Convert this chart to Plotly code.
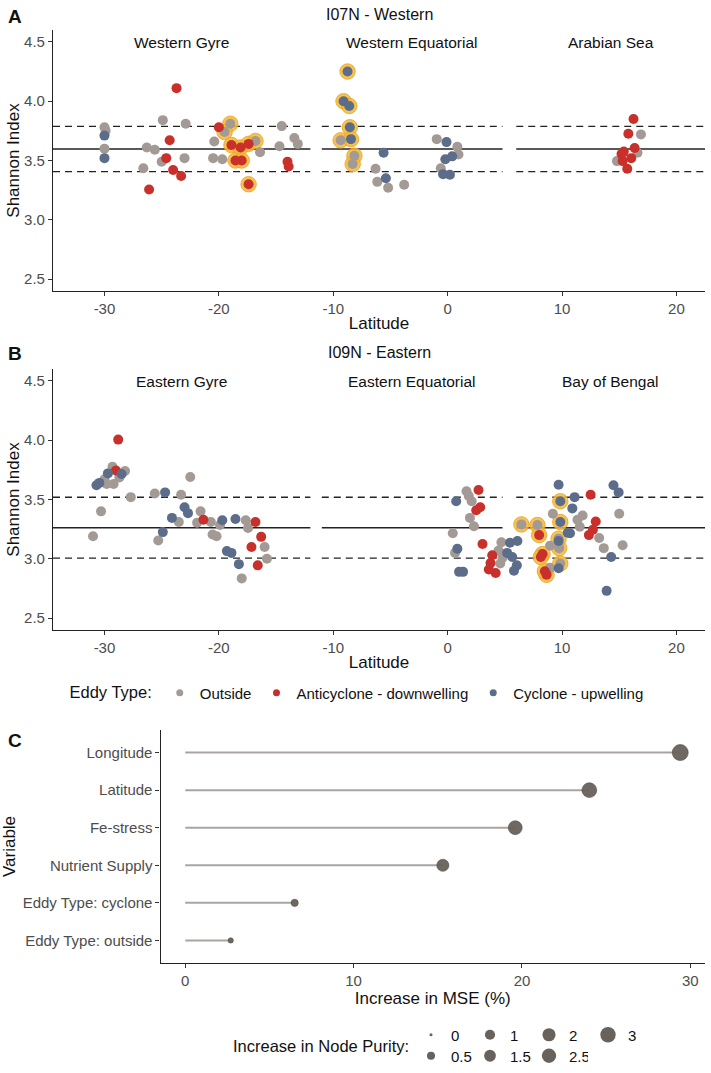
import plotly.graph_objects as go
import math

W, H = 711, 1073

# ---------------- Panel A: I07N - Western ----------------
a_lat = [-30.0, -29.9, -30.0, -30.0, -30.0, -24.9, -22.9, -23.7, -20.0, -19.0, -19.5, -24.3, -20.4,
         -14.5, -13.4, -13.1, -14.7, -18.9, -18.1, -17.4, -16.8, -16.4, -26.3, -25.6, -26.6, -24.6,
         -25.0, -23.0, -24.0, -23.3, -26.1, -20.5, -19.7, -18.55, -18.0, -17.4, -14.0, -13.9,
         -8.75, -9.1, -8.6, -8.55, -9.35, -8.45, -8.15, -8.3, -5.6, -6.3, -5.4, -6.15, -5.2, -3.8,
         -0.95, -0.1, 0.85, 0.95, 0.4, -0.2, -0.6, -0.4, 0.2,
         16.25, 15.8, 16.9, 16.35, 15.4, 16.6, 15.2, 16.05, 14.8, 15.3, 15.7]
a_shannon = [3.78, 3.75, 3.71, 3.60, 3.52, 3.84, 3.81, 4.11, 3.78, 3.81, 3.74, 3.67, 3.66,
             3.79, 3.69, 3.64, 3.62, 3.63, 3.61, 3.64, 3.665, 3.57, 3.61, 3.59, 3.435, 3.52,
             3.49, 3.52, 3.42, 3.37, 3.255, 3.52, 3.51, 3.50, 3.50, 3.30, 3.49, 3.45,
             4.25, 4.00, 3.96, 3.78, 3.67, 3.68, 3.54, 3.47, 3.565, 3.43, 3.35, 3.32, 3.27, 3.295,
             3.68, 3.655, 3.615, 3.55, 3.535, 3.51, 3.435, 3.385, 3.38,
             3.85, 3.725, 3.72, 3.605, 3.575, 3.565, 3.555, 3.52, 3.495, 3.495, 3.43]
a_type = ["O", "O", "C", "O", "C", "O", "O", "A", "A", "O", "O", "A", "O",
          "O", "O", "O", "O", "A", "A", "A", "O", "O", "O", "O", "O", "A",
          "O", "O", "A", "A", "A", "O", "O", "A", "A", "A", "A", "A",
          "C", "C", "C", "C", "O", "C", "O", "O", "C", "O", "C", "O", "O", "O",
          "O", "C", "O", "O", "C", "C", "O", "C", "C",
          "A", "A", "O", "A", "A", "O", "A", "A", "O", "A", "A"]
a_highlight = [0, 0, 0, 0, 0, 0, 0, 0, 0, 1, 1, 0, 0,
               0, 0, 0, 0, 1, 1, 1, 1, 0, 0, 0, 0, 0,
               0, 0, 0, 0, 0, 0, 0, 1, 1, 1, 0, 0,
               1, 1, 1, 1, 1, 1, 1, 1, 0, 0, 0, 0, 0, 0,
               0, 0, 0, 0, 0, 0, 0, 0, 0,
               0, 0, 0, 0, 0, 0, 0, 0, 0, 0, 0]
a_mean, a_sd = 3.597, 0.19

# ---------------- Panel B: I09N - Eastern ----------------
b_lat = [-28.8, -29.3, -29.0, -29.7, -28.2, -28.5, -28.7, -30.0, -30.7, -30.45, -29.8, -29.2, -27.7,
         -30.3, -31.0, -22.5, -25.6, -24.7, -23.3, -23.0, -22.7, -21.6, -24.1, -23.5, -21.35, -20.7,
         -21.9, -19.9, -19.7, -18.55, -17.65, -17.45, -16.8, -24.9, -25.3, -20.55, -20.2, -16.3,
         -17.15, -16.0, -15.8, -19.3, -18.9, -18.25, -16.6, -18.0,
         0.45, 0.75, 1.65, 2.1, 1.85, 2.7, 2.85, 2.5, 1.95, 2.3, 3.05, 0.85, 0.65, 1.0, 1.35,
         4.7, 5.45, 6.1, 4.45, 5.2, 5.65, 3.9, 4.8, 3.75, 4.6, 6.05, 3.6, 4.2, 5.8,
         6.45, 7.85, 8.0, 8.3, 8.15, 8.95, 8.65, 8.5, 8.95, 9.7, 9.85, 9.75, 9.7, 9.7, 9.85, 9.85,
         9.7, 9.2, 10.5, 10.7, 11.1, 10.9, 11.35, 11.8, 11.55, 12.5, 12.95, 12.7, 12.35, 13.25,
         13.65, 14.3, 13.9, 14.5, 14.95, 15.0, 15.3]
b_shannon = [4.005, 3.775, 3.745, 3.72, 3.74, 3.715, 3.685, 3.67, 3.62, 3.64, 3.63, 3.63, 3.52,
             3.40, 3.19, 3.69, 3.55, 3.56, 3.54, 3.435, 3.385, 3.40, 3.345, 3.31, 3.33, 3.31,
             3.305, 3.285, 3.325, 3.335, 3.325, 3.26, 3.31, 3.225, 3.155, 3.205, 3.19, 3.185,
             3.10, 3.10, 3.00, 3.065, 3.05, 2.955, 2.945, 2.835,
             3.215, 3.485, 3.57, 3.485, 3.53, 3.58, 3.435, 3.41, 3.345, 3.275, 3.125, 3.085, 3.05, 2.89, 2.89,
             3.14, 3.135, 3.15, 3.07, 3.05, 3.015, 3.03, 3.01, 2.965, 2.96, 2.945, 2.91, 2.88, 2.90,
             3.29, 3.285, 3.20, 3.04, 3.015, 3.11, 2.865, 2.895, 2.925, 2.92, 2.96, 3.09, 3.17, 3.15, 3.31, 3.485,
             3.625, 3.38, 3.22, 3.215, 3.52, 3.425, 3.33, 3.365, 3.27, 3.54, 3.315, 3.245, 3.20, 3.175,
             3.09, 3.015, 2.73, 3.62, 3.56, 3.38, 3.115]
b_type = ["A", "O", "A", "C", "O", "C", "O", "O", "C", "C", "O", "O", "O",
          "O", "O", "O", "O", "C", "O", "C", "C", "O", "C", "O", "A", "O",
          "O", "O", "C", "C", "O", "O", "A", "C", "O", "O", "O", "A",
          "A", "O", "O", "C", "C", "C", "A", "O",
          "O", "C", "O", "O", "O", "A", "A", "A", "O", "O", "A", "C", "O", "C", "C",
          "O", "C", "C", "O", "C", "C", "A", "O", "A", "O", "C", "A", "A", "C",
          "O", "O", "A", "A", "A", "O", "A", "A", "O", "C", "O", "O", "O", "C", "C", "C",
          "C", "O", "C", "C", "C", "C", "O", "O", "O", "A", "A", "A", "A", "O",
          "O", "C", "C", "C", "C", "O", "O"]
b_highlight = [0] * 46 + [0] * 15 + [0] * 14 + \
              [1, 1, 1, 1, 1, 0, 1, 1, 0, 0, 1, 1, 1, 0, 1, 1,
               0, 0, 0, 0, 0, 0, 0, 0, 0, 0, 0, 0, 0, 0,
               0, 0, 0, 0, 0, 0, 0]
b_mean, b_sd = 3.262, 0.257

a_regions = ["Western Gyre", "Western Equatorial", "Arabian Sea"]
b_regions = ["Eastern Gyre", "Eastern Equatorial", "Bay of Bengal"]
region_lo = [-34.5, -11.0, 6.0]
region_hi = [-12.0, 4.8, 22.5]
lat_ticks = [-30, -20, -10, 0, 10, 20]
shannon_ticks = [2.5, 3.0, 3.5, 4.0, 4.5]

# ---------------- Panel C: variable importance ----------------
variables = ["Longitude", "Latitude", "Fe-stress", "Nutrient Supply",
             "Eddy Type: cyclone", "Eddy Type: outside"]
mse_increase = [29.4, 24.0, 19.6, 15.3, 6.5, 2.7]
node_purity = [3.3, 2.7, 2.3, 1.6, 0.35, 0.1]
purity_row1 = [0, 1, 2, 3]
purity_row2 = [0.5, 1.5, 2.5]
mse_ticks = [0, 10, 20, 30]

eddy_order = ["O", "A", "C"]
eddy_names = {"O": "Outside", "A": "Anticyclone - downwelling", "C": "Cyclone - upwelling"}
eddy_colors = {"O": "#A39A95", "A": "#C9302B", "C": "#5B6D8A"}

FONT = "Liberation Sans, Arial, Helvetica, sans-serif"
LINE = "#222222"


def purity_size(v, vmax=3.3):
    return 3 + 13 * math.sqrt(max(v, 0) / vmax)


fig = go.Figure()


def add_panel(lat, val, typ, hl, mean, sd, xa, ya):
    for off, dash in [(0, "solid"), (sd, "7px,5px"), (-sd, "7px,5px")]:
        xs, ys = [], []
        for lo, hi in zip(region_lo, region_hi):
            xs += [lo, hi, None]
            ys += [mean + off, mean + off, None]
        fig.add_trace(go.Scatter(x=xs, y=ys, mode="lines", xaxis=xa, yaxis=ya,
                                 line=dict(color=LINE, width=1.3, dash=dash),
                                 showlegend=False, hoverinfo="skip"))
    hx = [x for x, h in zip(lat, hl) if h]
    hy = [y for y, h in zip(val, hl) if h]
    fig.add_trace(go.Scatter(x=hx, y=hy, mode="markers", xaxis=xa, yaxis=ya,
                             marker=dict(size=15.5, color="rgba(245,184,52,0.85)",
                                         line=dict(width=0.8, color="#E9A322")),
                             showlegend=False, hoverinfo="skip"))
    for t in eddy_order:
        xs = [x for x, tt in zip(lat, typ) if tt == t]
        ys = [y for y, tt in zip(val, typ) if tt == t]
        fig.add_trace(go.Scatter(x=xs, y=ys, mode="markers", xaxis=xa, yaxis=ya,
                                 marker=dict(size=10, color=eddy_colors[t], line=dict(width=0)),
                                 showlegend=False, name=eddy_names[t]))


add_panel(a_lat, a_shannon, a_type, a_highlight, a_mean, a_sd, "x", "y")
add_panel(b_lat, b_shannon, b_type, b_highlight, b_mean, b_sd, "x2", "y2")

# legend-only entries for eddy type
for t in eddy_order:
    fig.add_trace(go.Scatter(x=[None], y=[None], mode="markers", xaxis="x", yaxis="y",
                             marker=dict(size=7, color=eddy_colors[t]),
                             name=eddy_names[t], showlegend=True, legend="legend"))

# Panel C lollipops
seg_x, seg_y = [], []
for v, m in zip(variables, mse_increase):
    seg_x += [0, m, None]
    seg_y += [v, v, None]
fig.add_trace(go.Scatter(x=seg_x, y=seg_y, mode="lines", xaxis="x3", yaxis="y3",
                         line=dict(color="#A9A5A1", width=2), showlegend=False, hoverinfo="skip"))
fig.add_trace(go.Scatter(x=mse_increase, y=variables, mode="markers", xaxis="x3", yaxis="y3",
                         marker=dict(size=[purity_size(p) for p in node_purity], color="#69615B",
                                     opacity=0.95, line=dict(width=0.6, color="#4A433E")),
                         showlegend=False))

for lg, row in [("legend2", purity_row1), ("legend3", purity_row2)]:
    for p in row:
        fig.add_trace(go.Scatter(x=[None], y=[None], mode="markers", xaxis="x3", yaxis="y3",
                                 marker=dict(size=purity_size(p), color="#69615B"),
                                 name=f"{p:g}", showlegend=True, legend=lg))

axis_common = dict(showline=True, linecolor=LINE, linewidth=1.1, ticks="outside", ticklen=4,
                   tickwidth=1.1, tickcolor="#333333", showgrid=False, zeroline=False,
                   tickfont=dict(size=15, color="#4D4D4D", family=FONT))
title_font = dict(size=17, color="#111111", family=FONT)

ya_dom = [1 - 291 / H, 1 - 30 / H]
yb_dom = [1 - 630 / H, 1 - 369 / H]
xab_dom = [53 / W, 705 / W]
lat_text = [str(v) for v in lat_ticks]
shannon_text = [f"{v:.1f}" for v in shannon_ticks]

fig.update_layout(
    width=W, height=H, margin=dict(l=0, r=0, t=0, b=0),
    paper_bgcolor="white", plot_bgcolor="white",
    font=dict(family=FONT, color="#111111"),
    xaxis=dict(domain=xab_dom, anchor="y", range=[-34.5, 22.5], tickvals=lat_ticks, ticktext=lat_text,
               title=dict(text="Latitude", font=title_font, standoff=1), **axis_common),
    yaxis=dict(domain=ya_dom, anchor="x", range=[2.4, 4.6], tickvals=shannon_ticks, ticktext=shannon_text,
               title=dict(text="Shannon Index", font=title_font, standoff=0), **axis_common),
    xaxis2=dict(domain=xab_dom, anchor="y2", range=[-34.5, 22.5], tickvals=lat_ticks, ticktext=lat_text,
                title=dict(text="Latitude", font=title_font, standoff=1), **axis_common),
    yaxis2=dict(domain=yb_dom, anchor="x2", range=[2.4, 4.6], tickvals=shannon_ticks, ticktext=shannon_text,
                title=dict(text="Shannon Index", font=title_font, standoff=0), **axis_common),
    xaxis3=dict(domain=[160.5 / W, 705 / W], anchor="y3", range=[-1.47, 30.87], tickvals=mse_ticks,
                title=dict(text="Increase in MSE (%)", font=title_font, standoff=2), **axis_common),
    yaxis3=dict(domain=[1 - 963 / H, 1 - 730 / H], anchor="x3", type="category",
                categoryorder="array", categoryarray=variables[::-1], range=[-0.6, 5.6],
                title=dict(text="Variable", font=title_font, standoff=2), **axis_common),
    legend=dict(orientation="h", x=358 / W, xanchor="center", y=1 - 693 / H, yanchor="middle",
                title=dict(text="Eddy Type:", side="left", font=dict(size=16.5, family=FONT)),
                font=dict(size=15, family=FONT), bgcolor="rgba(0,0,0,0)", itemsizing="trace",
                tracegroupgap=0),
    legend2=dict(orientation="h", x=411 / W, xanchor="left", y=1 - 1035 / H, yanchor="middle",
                 font=dict(size=15, family=FONT), bgcolor="rgba(0,0,0,0)", itemsizing="trace",
                 entrywidth=14, entrywidthmode="pixels"),
    legend3=dict(orientation="h", x=411 / W, xanchor="left", y=1 - 1056 / H, yanchor="middle",
                 font=dict(size=15, family=FONT), bgcolor="rgba(0,0,0,0)", itemsizing="trace",
                 entrywidth=14, entrywidthmode="pixels"),
)

ann = []
for txt, x, y in [("A", 15, 16), ("B", 15, 353), ("C", 15, 740)]:
    ann.append(dict(text=f"<b>{txt}</b>", x=x / W, y=1 - y / H, xref="paper", yref="paper",
                    xanchor="center", yanchor="middle",
                    showarrow=False, font=dict(size=19, family=FONT, color="#111")))
for txt, y in [("I07N - Western", 15), ("I09N - Eastern", 352)]:
    ann.append(dict(text=txt, x=379 / W, y=1 - y / H, xref="paper", yref="paper",
                    xanchor="center", yanchor="middle",
                    showarrow=False, font=dict(size=16, family=FONT, color="#111")))
for regs, xr, yr in [(a_regions, "x", "y domain"), (b_regions, "x2", "y2 domain")]:
    for name, lo, hi in zip(regs, region_lo, region_hi):
        ann.append(dict(text=name, x=(lo + hi) / 2, y=(261 - 12.5) / 261, xref=xr, yref=yr,
                        xanchor="center", yanchor="middle",
                        showarrow=False, font=dict(size=15.5, family=FONT, color="#111")))
ann.append(dict(text="Increase in Node Purity:", x=411 / W, y=1 - 1046 / H, xref="paper", yref="paper",
                xanchor="right", yanchor="middle",
                showarrow=False, font=dict(size=16.5, family=FONT, color="#111")))
fig.update_layout(annotations=ann)

fig.write_html("out.html")
